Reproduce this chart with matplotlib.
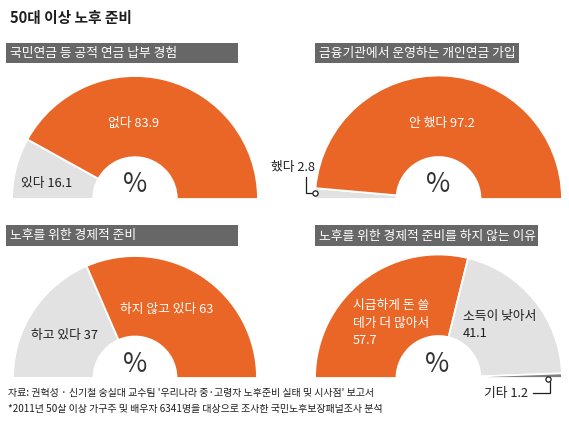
import matplotlib
matplotlib.use("Agg")
import matplotlib.pyplot as plt
from matplotlib.patches import Rectangle, Circle

plt.rcParams['font.family'] = ['Noto Sans CJK KR', 'DejaVu Sans']

W, H = 569, 423

# ---- data ----
title = "50대 이상 노후 준비"
panel_titles = ["국민연금 등 공적 연금 납부 경험",
                "금융기관에서 운영하는 개인연금 가입",
                "노후를 위한 경제적 준비",
                "노후를 위한 경제적 준비를 하지 않는 이유"]
p1_labels = ["있다", "없다"]
p1_values = [16.1, 83.9]
p2_labels = ["했다", "안 했다"]
p2_values = [2.8, 97.2]
p3_labels = ["하고 있다", "하지 않고 있다"]
p3_values = [37, 63]
p4_labels = ["시급하게 돈 쓸\n데가 더 많아서", "소득이 낮아서", "기타"]
p4_values = [57.7, 41.1, 1.2]
source_lines = ["자료: 권혁성 · 신기철 숭실대 교수팀 '우리나라 중·고령자 노후준비 실태 및 시사점' 보고서",
                "*2011년 50살 이상 가구주 및 배우자 6341명을 대상으로 조사한 국민노후보장패널조사 분석"]

ORANGE = "#E96626"
LGRAY = "#E2E2E2"
DGRAY = "#7E7E7E"
HDR = "#676767"
TXT = "#1E1E1E"

fig = plt.figure(figsize=(W / 100, H / 100), dpi=100)
fig.patch.set_facecolor("white")

bg = fig.add_axes([0, 0, 1, 1])
bg.set_xlim(0, W); bg.set_ylim(H, 0); bg.axis("off")

# header bars
headers = [(6, 43, 232, 20), (315, 43, 204, 20), (6, 225, 232, 21), (315, 225, 223, 21)]
for (x, y, w, h), t in zip(headers, panel_titles):
    bg.add_patch(Rectangle((x, y), w, h, facecolor=HDR, edgecolor="none"))
    bg.text(x + 4, y + h / 2 + 0.5, t, color="white", fontsize=9.2, ha="left", va="center")

bg.text(10, 18.5, title, fontsize=10.6, fontweight="bold", color=TXT, ha="left", va="center")

def half_donut(cx, cy, r, values, colors):
    ax = fig.add_axes([(cx - r) / W, (H - cy - r) / H, 2 * r / W, 2 * r / H])
    total = sum(values)
    ax.pie(list(values) + [total], colors=list(colors) + ["none"],
           startangle=180, counterclock=False, radius=1.0,
           wedgeprops=dict(width=0.66, edgecolor="white", linewidth=1.3))
    ax.patches[-1].set_edgecolor("none")
    ax.set_xlim(-1, 1); ax.set_ylim(-1, 1)
    ax.set_aspect("auto")
    ax.axis("off")
    return ax

half_donut(135, 199, 123, p1_values, [LGRAY, ORANGE])
half_donut(438.5, 199, 123.5, p2_values, [LGRAY, ORANGE])
half_donut(135, 378, 122, p3_values, [LGRAY, ORANGE])
half_donut(438.5, 378, 123.5, p4_values, [ORANGE, LGRAY, DGRAY])

ov = fig.add_axes([0, 0, 1, 1])
ov.set_xlim(0, W); ov.set_ylim(H, 0); ov.axis("off")
ov.patch.set_alpha(0)

fs = 9.2
# panel 1
ov.text(134, 123, f"{p1_labels[1]} {p1_values[1]}", color="white", fontsize=fs, ha="center", va="center")
ov.text(47, 183, f"{p1_labels[0]} {p1_values[0]}", color=TXT, fontsize=fs, ha="center", va="center")
# panel 2
ov.text(442, 123, f"{p2_labels[1]} {p2_values[1]}", color="white", fontsize=fs, ha="center", va="center")
ov.text(315, 167, f"{p2_labels[0]} {p2_values[0]}", color=TXT, fontsize=fs, ha="right", va="center")
ov.plot([306, 306, 313], [177, 193, 193], color=TXT, lw=0.9, solid_joinstyle="miter")
ov.add_patch(Circle((315.5, 193.5), 2.6, facecolor="white", edgecolor=TXT, lw=0.9, zorder=5))
# panel 3
ov.text(167, 309, f"{p3_labels[1]} {p3_values[1]}", color="white", fontsize=fs, ha="center", va="center")
ov.text(65, 336, f"{p3_labels[0]} {p3_values[0]}", color=TXT, fontsize=fs, ha="center", va="center")
# panel 4
ov.text(353, 323, f"{p4_labels[0]}\n{p4_values[0]}", color="white", fontsize=fs, ha="left", va="center",
        linespacing=1.4)
ov.text(463, 325, f"{p4_labels[1]}\n{p4_values[1]}", color=TXT, fontsize=fs, ha="left", va="center",
        linespacing=1.4)
ov.text(528, 393, f"{p4_labels[2]} {p4_values[2]}", color=TXT, fontsize=fs, ha="right", va="center")
ov.plot([533, 550, 550], [393, 393, 382], color=TXT, lw=0.9, solid_joinstyle="miter")
ov.add_patch(Circle((548.5, 379.5), 2.6, facecolor="white", edgecolor=TXT, lw=0.9, zorder=5))

# percent signs
for (x, y) in [(135, 185), (438, 185), (135, 364), (437, 364)]:
    ov.text(x, y, "%", color="#333333", fontsize=19, ha="center", va="center")

# source
ov.text(8, 393, source_lines[0], color=TXT, fontsize=7.2, ha="left", va="center")
ov.text(8, 409, source_lines[1], color=TXT, fontsize=7.2, ha="left", va="center")

fig.savefig("out.png", dpi=100, facecolor="white")
